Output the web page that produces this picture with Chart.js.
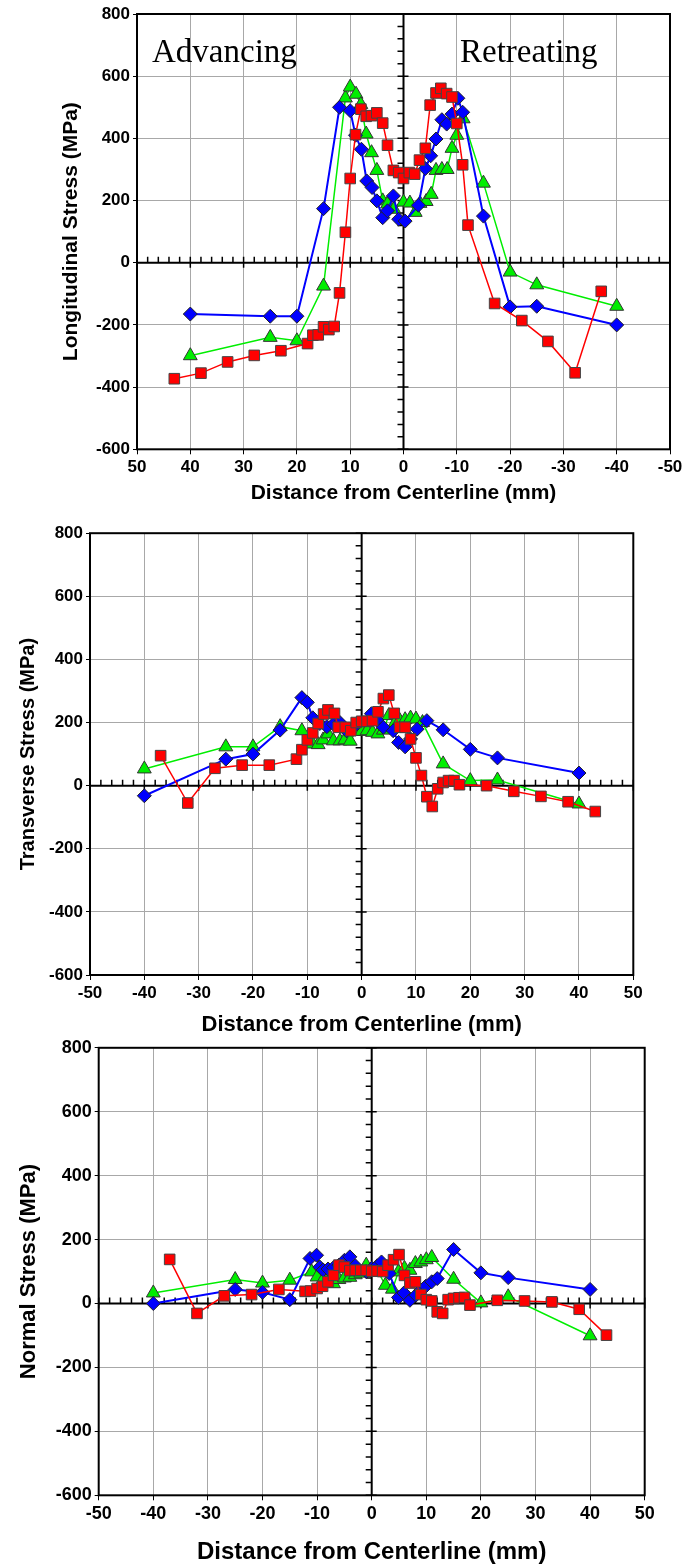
<!DOCTYPE html>
<html>
<head>
<meta charset="utf-8">
<script src="https://cdn.jsdelivr.net/npm/chart.js@4.4.1/dist/chart.umd.min.js"></script>
<style>
  body { margin: 0; background: #fff; }
  .box { position: absolute; left: 0; }
</style>
</head>
<body>
<div class="box" style="top:0px"><canvas id="c1" width="687" height="520"></canvas></div>
<div class="box" style="top:520px"><canvas id="c2" width="687" height="520"></canvas></div>
<div class="box" style="top:1034px"><canvas id="c3" width="687" height="534"></canvas></div>
<script>
// Longitudinal stress
const longRedX = [43, 38, 33, 28, 23, 18, 17, 16, 15, 14, 13, 12, 10.9, 10, 9, 8, 7, 6, 5, 3.9, 3, 1.9, 0.9, 0, -1.1, -2.1, -3, -4.1, -5, -6.1, -7, -8.1, -9.1, -10, -11.1, -12.1, -17.1, -22.2, -27.1, -32.2, -37.1];
const longRedY = [-373, -355, -319, -298, -283, -260, -233, -232, -206, -215, -205, -97, 98, 271, 412, 494, 471, 473, 482, 449, 378, 297, 290, 271, 290, 285, 330, 368, 507, 546, 561, 544, 533, 448, 315, 121, -131, -186, -253, -354, -92];
const longBlueX = [40, 25, 20, 15, 12, 10, 9, 7.9, 6.9, 5.9, 5, 3.9, 3, 1.9, 0.9, -0.3, -2.8, -4.1, -5.1, -6.1, -7.2, -8.1, -9.1, -10.2, -11.1, -15, -20, -25, -40];
const longBlueY = [-165, -172, -172, 174, 500, 489, 410, 365, 263, 242, 199, 145, 167, 215, 140, 134, 185, 303, 344, 398, 460, 446, 478, 529, 484, 150, -142, -140, -200];
const longGreenX = [40, 25, 20, 15, 10.9, 10, 8.9, 8, 7, 6, 5, 3.9, 3, 1.8, 0, -1.2, -2.2, -3.1, -4.25, -5.2, -6.1, -7.2, -8.2, -9.1, -10, -11.2, -15, -20, -25, -40];
const longGreenY = [-299, -240, -251, -75, 530, 565, 542, 509, 414, 354, 297, 199, 189, 172, 195, 192, 162, 191, 197, 220, 297, 300, 300, 368, 410, 463, 256, -30, -71, -140];

// Transverse stress
const transRedX = [-37, -32, -27, -22, -17, -12, -11, -10, -9, -8, -7, -6.2, -5, -4.3, -3, -2, -1, 0, 1, 2, 3, 4, 5, 6, 7, 8, 9, 10, 11, 12, 13, 14, 15, 16, 17, 18, 23, 28, 33, 38, 43];
const transRedY = [95, -55, 55, 65, 65, 84, 114, 145, 167, 197, 227, 240, 229, 185, 185, 174, 200, 204, 204, 206, 234, 276, 287, 229, 185, 185, 148, 88, 32, -35, -66, -10, 10, 16, 16, 3, 0, -18, -34, -51, -82];
const transBlueX = [-40, -25, -20, -15, -11, -10, -9, -7.7, -6.4, -5.2, -4, -2.8, -0.9, 1.8, 2.8, 4, 5.8, 6.8, 8, 9, 10.2, 12, 15, 20, 25, 40];
const transBlueY = [-32, 84, 100, 176, 279, 264, 215, 197, 187, 195, 200, 174, 195, 228, 208, 185, 174, 137, 123, 148, 179, 206, 177, 115, 88, 40];
const transGreenX = [-40, -25, -20, -15, -11, -9, -8, -7.1, -6.2, -5.2, -4, -3.1, -2.1, -1, 0, 1, 2, 3, 4, 5, 6, 7, 8, 9, 10, 11.2, 15, 20, 25, 40];
const transGreenY = [53, 123, 123, 187, 174, 132, 130, 145, 164, 142, 142, 145, 141, 174, 172, 174, 169, 164, 176, 222, 195, 207, 209, 214, 211, 200, 69, 16, 18, -58];

// Normal stress
const normRedX = [-37, -32, -27, -22, -17, -12.2, -11.2, -10, -9, -8, -7, -6, -5, -4, -3, -2, -1, 0, 1, 2, 3, 4, 5, 6, 7, 8, 9, 10, 11, 12, 13, 14, 15, 16, 17, 18, 23, 28, 33, 38, 43];
const normRedY = [138, -31, 24, 28, 44, 38, 39, 47, 54, 68, 88, 120, 114, 103, 104, 104, 104, 101, 102, 100, 120, 137, 153, 88, 64, 68, 28, 12, 8, -26, -31, 12, 16, 18, 19, -5, 10, 8, 5, -18, -99];
const normBlueX = [-40, -25, -20, -15, -11.3, -10.1, -9.5, -8.9, -8, -7, -6, -5, -4, -3, -1, 0, 1, 1.8, 3.2, 4.9, 5.9, 7, 8.1, 9, 9.9, 11, 12, 15, 20, 25, 40];
const normBlueY = [0, 44, 35, 12, 141, 151, 114, 105, 108, 112, 120, 135, 146, 118, 100, 110, 118, 130, 94, 19, 33, 10, 26, 42, 54, 68, 78, 169, 96, 81, 44];
const normGreenX = [-40, -25, -20, -15, -11, -10, -9, -8, -7, -6, -5, -4, -3, -2, -1, 0, 1, 2.5, 3.8, 4.9, 6, 7, 8, 9, 10, 11, 15, 20, 25, 40];
const normGreenY = [33, 75, 64, 73, 99, 83, 72, 75, 62, 75, 80, 82, 90, 95, 120, 100, 105, 57, 45, 99, 110, 104, 125, 130, 137, 144, 76, 2, 21, -101];

const xTicks = [-50, 50, 10];
const yTicks = [-600, 800, 200];

const FONT = '"Liberation Sans", Arial, sans-serif';

function pts(xs, ys) {
    return xs.map((x, i) => ({ x: x, y: ys[i] }));
}

function series(r, b, g) {
    return [
        {
            data: r, showLine: true, borderColor: '#ff0000', borderWidth: 1.5,
            pointStyle: 'rect', pointRadius: 7.5, pointBackgroundColor: '#ff0000',
            pointBorderColor: '#444', pointBorderWidth: 1
        },
        {
            data: b, showLine: true, borderColor: '#0000ff', borderWidth: 2,
            pointStyle: 'rectRot', pointRadius: 7, pointBackgroundColor: '#0000ff',
            pointBorderColor: '#222', pointBorderWidth: 1
        },
        {
            data: g, showLine: true, borderColor: '#00ee00', borderWidth: 1.5,
            pointStyle: 'triangle', pointRadius: 8, pointBackgroundColor: '#00ee00',
            pointBorderColor: '#333', pointBorderWidth: 1
        }
    ];
}

// zero axes with minor ticks + black frame
const crossAxes = {
    id: 'crossAxes',
    beforeDatasetsDraw(chart) {
        const { ctx, chartArea: a, scales: { x, y } } = chart;
        const x0 = x.getPixelForValue(0), y0 = y.getPixelForValue(0);
        ctx.save();
        ctx.strokeStyle = '#000';
        ctx.lineWidth = 2;
        ctx.beginPath();
        ctx.moveTo(a.left, y0); ctx.lineTo(a.right, y0);
        ctx.moveTo(x0, a.top); ctx.lineTo(x0, a.bottom);
        ctx.stroke();
        ctx.lineWidth = 1.5;
        ctx.beginPath();
        for (let v = xTicks[0]; v <= xTicks[1]; v += 2) {
            const px = x.getPixelForValue(v);
            ctx.moveTo(px, y0 - 6);
            ctx.lineTo(px, v % 10 === 0 ? y0 + 5 : y0);
        }
        for (let v = yTicks[0]; v <= yTicks[1]; v += 40) {
            const py = y.getPixelForValue(v);
            ctx.moveTo(x0 - 6, py);
            ctx.lineTo(v % 200 === 0 ? x0 + 5 : x0, py);
        }
        ctx.stroke();
        ctx.lineWidth = 2;
        ctx.strokeRect(a.left, a.top, a.right - a.left, a.bottom - a.top);
        ctx.restore();
    }
};

const sideLabels = {
    id: 'sideLabels',
    beforeDatasetsDraw(chart) {
        const { ctx, chartArea: a } = chart;
        ctx.save();
        ctx.fillStyle = '#000';
        ctx.font = '33px "Liberation Serif", serif';
        ctx.textBaseline = 'alphabetic';
        ctx.fillText('Advancing', a.left + 15, a.top + 48);
        ctx.fillText('Retreating', a.left + 323, a.top + 48);
        ctx.restore();
    }
};

function makeChart(id, g) {
    return new Chart(document.getElementById(id), {
        type: 'scatter',
        data: { datasets: series(g.r, g.b, g.g) },
        plugins: g.extra ? [crossAxes, g.extra] : [crossAxes],
        options: {
            responsive: false,
            devicePixelRatio: 1,
            animation: false,
            layout: { padding: { left: g.padL, top: g.padT, right: g.padR, bottom: g.padB } },
            plugins: { legend: { display: false }, tooltip: { enabled: false } },
            scales: {
                x: {
                    type: 'linear', min: xTicks[0], max: xTicks[1], reverse: !!g.reverse,
                    afterFit: s => { s.height = g.xH; },
                    border: { display: false },
                    grid: { color: '#a8a8a8', lineWidth: 1, tickLength: 5, tickColor: '#000' },
                    ticks: {
                        stepSize: xTicks[2], autoSkip: false, maxRotation: 0, padding: 3,
                        color: '#000', font: { family: FONT, size: g.tickSize, weight: 'bold' }
                    },
                    title: {
                        display: true, text: 'Distance from Centerline (mm)', color: '#000',
                        padding: 0, font: { family: FONT, size: g.xTitle, weight: 'bold' }
                    }
                },
                y: {
                    type: 'linear', min: yTicks[0], max: yTicks[1],
                    afterFit: s => { s.width = g.yW; },
                    border: { display: false },
                    grid: { color: '#a8a8a8', lineWidth: 1, tickLength: 4, tickColor: '#000' },
                    ticks: {
                        stepSize: yTicks[2], padding: 3, color: '#000',
                        font: { family: FONT, size: g.tickSize, weight: 'bold' }
                    },
                    title: {
                        display: true, text: g.yText, color: '#000',
                        padding: 0, font: { family: FONT, size: g.yTitle, weight: 'bold' }
                    }
                }
            }
        }
    });
}

makeChart('c1', {
    r: pts(longRedX, longRedY), b: pts(longBlueX, longBlueY), g: pts(longGreenX, longGreenY),
    reverse: true, extra: sideLabels,
    padL: 58.4, padT: 14, padR: 17, padB: 14, yW: 78.6, xH: 56.7,
    tickSize: 17, xTitle: 21, yTitle: 21, yText: 'Longitudinal Stress (MPa)'
});

makeChart('c2', {
    r: pts(transRedX, transRedY), b: pts(transBlueX, transBlueY), g: pts(transGreenX, transGreenY),
    padL: 16, padT: 12, padR: 53.7, padB: 2, yW: 74, xH: 63,
    tickSize: 17, xTitle: 22, yTitle: 20, yText: 'Transverse Stress (MPa)'
});

makeChart('c3', {
    r: pts(normRedX, normRedY), b: pts(normBlueX, normBlueY), g: pts(normGreenX, normGreenY),
    padL: 15.8, padT: 13.3, padR: 42.3, padB: 1.6, yW: 82.9, xH: 71.1,
    tickSize: 18, xTitle: 24, yTitle: 22, yText: 'Normal Stress (MPa)'
});
</script>
</body>
</html>
